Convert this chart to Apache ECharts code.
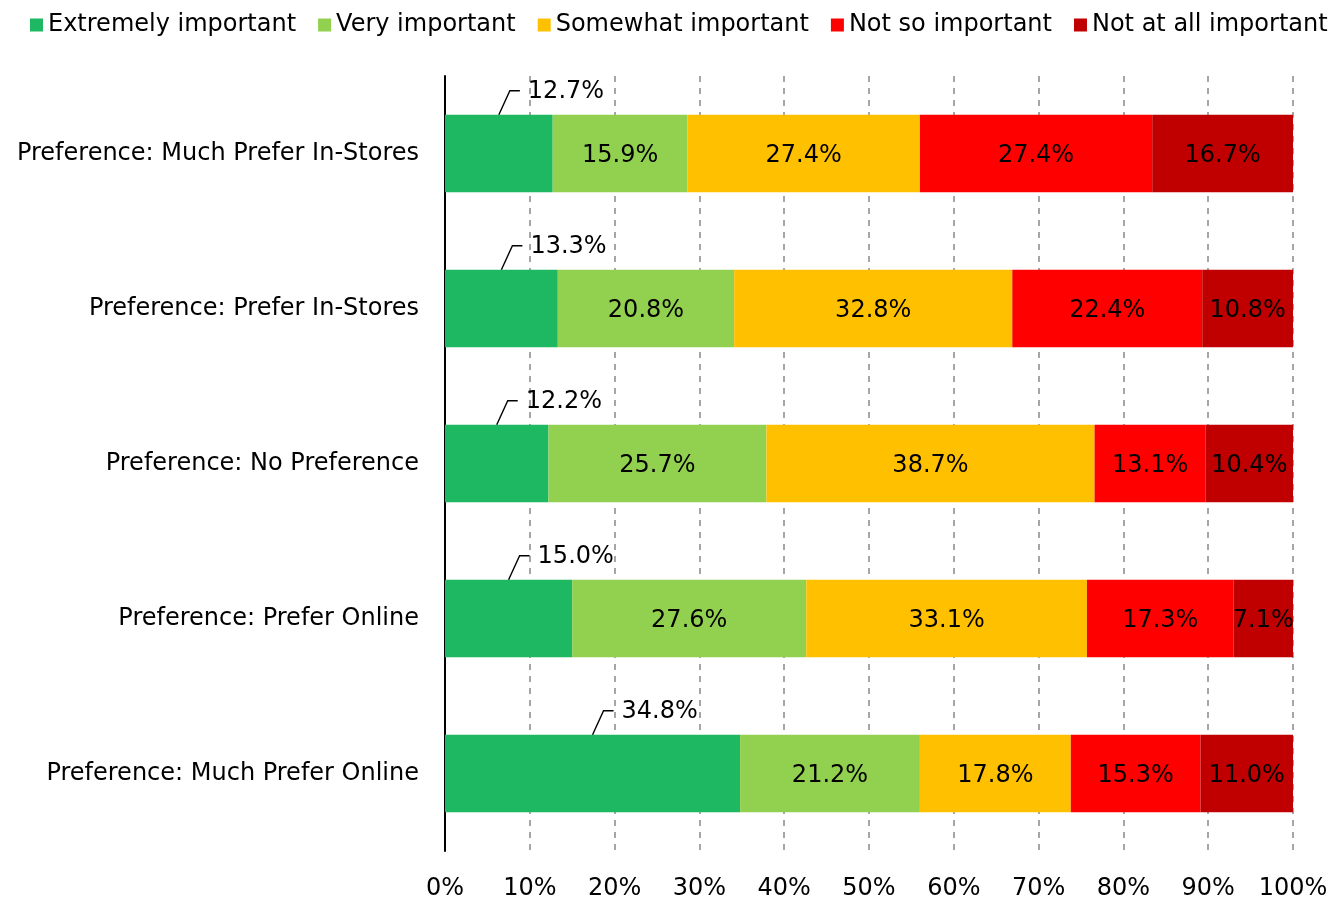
<!DOCTYPE html>
<html>
<head>
<meta charset="utf-8">
<script src="https://cdn.jsdelivr.net/npm/echarts@6/dist/echarts.min.js"></script>
<style>
html,body{margin:0;padding:0;background:#fff;}
#chart{width:1334px;height:901px;}
</style>
</head>
<body>
<div id="chart"></div>
<script>
const categories = [
  'Preference: Much Prefer In-Stores',
  'Preference: Prefer In-Stores',
  'Preference: No Preference',
  'Preference: Prefer Online',
  'Preference: Much Prefer Online'
];
const seriesNames = ['Extremely important','Very important','Somewhat important','Not so important','Not at all important'];
const extremelyImportant = [12.7, 13.3, 12.2, 15.0, 34.8];
const veryImportant      = [15.9, 20.8, 25.7, 27.6, 21.2];
const somewhatImportant  = [27.4, 32.8, 38.7, 33.1, 17.8];
const notSoImportant     = [27.4, 22.4, 13.1, 17.3, 15.3];
const notAtAllImportant  = [16.7, 10.8, 10.4, 7.1, 11.0];
const xTicks = [0,10,20,30,40,50,60,70,80,90,100];

const colors = ['#1DB861','#92D050','#FFC000','#FF0000','#C00000'];
const FONT = 'DejaVu Sans';
const allValues = [extremelyImportant, veryImportant, somewhatImportant, notSoImportant, notAtAllImportant];

const chart = echarts.init(document.getElementById('chart'), null, {renderer:'canvas'});

const barSeries = seriesNames.map((name, i) => ({
  name: name,
  type: 'bar',
  stack: 'total',
  barWidth: '50%',
  itemStyle: { color: colors[i] },
  label: {
    show: i !== 0,
    position: 'inside',
    color: '#000',
    fontFamily: FONT,
    fontSize: 24,
    offset: [0, 2],
    formatter: p => p.value.toFixed(1) + '%'
  },
  emphasis: { disabled: true },
  data: allValues[i]
}));

const leaderSeries = {
  type: 'custom',
  name: 'leader',
  z: 10,
  silent: true,
  data: extremelyImportant.map((v, i) => [v, i]),
  renderItem: function (params, api) {
    const v = api.value(0);
    const idx = api.value(1);
    const c = api.coord([v / 2, idx]);
    const bh = api.size([0, 1])[1] * 0.5;
    const top = c[1] - bh / 2;
    const x0 = c[0], y0 = top;
    const x1 = x0 + 11, y1 = top - 24;
    const x2 = x1 + 10;
    return {
      type: 'group',
      children: [
        { type: 'polyline', shape: { points: [[x0, y0], [x1, y1], [x2, y1]] },
          style: { stroke: '#000', lineWidth: 1.4, fill: null } },
        { type: 'text', style: { x: x2 + 8, y: y1 + 1, text: v.toFixed(1) + '%',
          fill: '#000', font: '24px "' + FONT + '"', align: 'left', verticalAlign: 'middle' } }
      ]
    };
  }
};

chart.setOption({
  animation: false,
  textStyle: { fontFamily: FONT },
  legend: {
    data: seriesNames,
    top: 8,
    left: 25,
    itemWidth: 13,
    itemHeight: 13,
    itemGap: 22,
    icon: 'rect',
    textStyle: { fontFamily: FONT, fontSize: 24, color: '#000' },
    selectedMode: false
  },
  grid: { left: 445, right: 41, top: 76, bottom: 48, containLabel: false },
  xAxis: {
    type: 'value',
    min: xTicks[0],
    max: xTicks[xTicks.length - 1],
    interval: 10,
    axisLine: { show: false },
    axisTick: { show: false },
    axisLabel: { color: '#000', fontFamily: FONT, fontSize: 24, margin: 26, formatter: '{value}%' },
    splitLine: { show: true, lineStyle: { color: '#A6A6A6', width: 2, type: [6, 6] } }
  },
  yAxis: {
    type: 'category',
    inverse: true,
    data: categories,
    axisLine: { show: true, lineStyle: { color: '#000', width: 2 } },
    axisTick: { show: false },
    axisLabel: { color: '#000', fontFamily: FONT, fontSize: 24, margin: 26 }
  },
  series: barSeries.concat([leaderSeries])
});
</script>
</body>
</html>
